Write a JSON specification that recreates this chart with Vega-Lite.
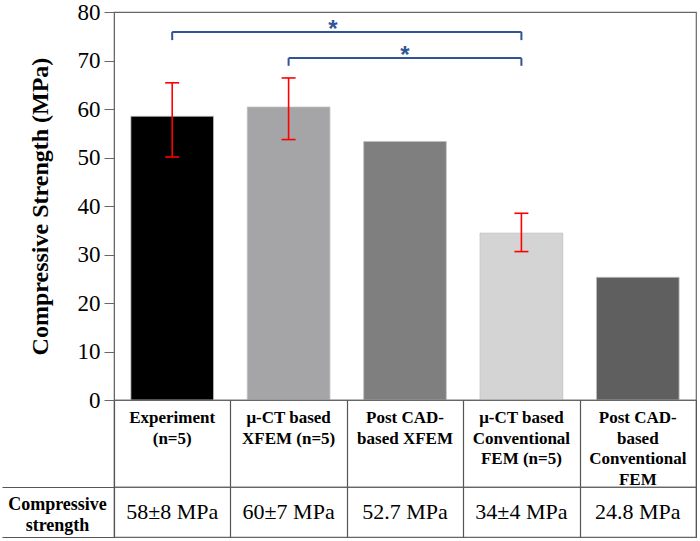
{
  "$schema": "https://vega.github.io/schema/vega-lite/v6.json",
  "padding": 0,
  "autosize": {"type": "pad"},
  "background": "white",
  "config": {
    "view": {"stroke": "#666666", "strokeWidth": 1.2},
    "font": "Liberation Serif"
  },
  "datasets": {
    "bars": [
      {"method": "Experiment", "strength": 58.5, "lo": 50.1, "hi": 65.4, "label": "Experiment\n(n=5)", "value": "58±8 MPa"},
      {"method": "μ-CT based XFEM", "strength": 60.4, "lo": 53.7, "hi": 66.4, "label": "μ-CT based\nXFEM (n=5)", "value": "60±7 MPa"},
      {"method": "Post CAD-based XFEM", "strength": 53.3, "lo": null, "hi": null, "label": "Post CAD-\nbased XFEM", "value": "52.7 MPa"},
      {"method": "μ-CT based Conventional FEM", "strength": 34.4, "lo": 30.6, "hi": 38.5, "label": "μ-CT based\nConventional\nFEM (n=5)", "value": "34±4 MPa"},
      {"method": "Post CAD-based Conventional FEM", "strength": 25.3, "lo": null, "hi": null, "label": "Post CAD-\nbased\nConventional\nFEM", "value": "24.8 MPa"}
    ],
    "brackets": [
      {"id": "a", "from": "Experiment", "to": "μ-CT based Conventional FEM", "y": 75.9, "y_end": 74.2, "star_at": "μ-CT based XFEM", "star_y": 74.9},
      {"id": "b", "from": "μ-CT based XFEM", "to": "μ-CT based Conventional FEM", "y": 70.5, "y_end": 68.9, "star_at": "Post CAD-based XFEM", "star_y": 69.5}
    ]
  },
  "spacing": 0,
  "bounds": "flush",
  "resolve": {"scale": {"x": "independent", "y": "independent", "color": "independent"}},
  "vconcat": [
    {
      "width": 582,
      "height": 388,
      "layer": [
        {
          "data": {"name": "bars"},
          "mark": {"type": "bar", "stroke": "#bfbfbf", "strokeWidth": 0.8},
          "encoding": {
            "x": {
              "field": "method", "type": "nominal",
              "scale": {
                "domain": ["Experiment", "μ-CT based XFEM", "Post CAD-based XFEM", "μ-CT based Conventional FEM", "Post CAD-based Conventional FEM"],
                "paddingInner": 0.29, "paddingOuter": 0.145
              },
              "axis": null
            },
            "y": {
              "field": "strength", "type": "quantitative",
              "scale": {"domain": [0, 80]},
              "axis": {
                "values": [0, 10, 20, 30, 40, 50, 60, 70, 80],
                "grid": false,
                "title": "Compressive Strength (MPa)",
                "titleFont": "Liberation Serif", "titleFontSize": 24, "titleFontWeight": "bold",
                "titleColor": "black", "titlePadding": 25,
                "labelFont": "Liberation Serif", "labelFontSize": 23, "labelColor": "black",
                "labelPadding": 4, "labelFlush": false, "labelOverlap": false,
                "tickSize": 10, "tickColor": "#666666", "domainColor": "#666666"
              }
            },
            "color": {
              "field": "method", "type": "nominal",
              "scale": {
                "domain": ["Experiment", "μ-CT based XFEM", "Post CAD-based XFEM", "μ-CT based Conventional FEM", "Post CAD-based Conventional FEM"],
                "range": ["#000000", "#a5a5a7", "#7f7f7f", "#d4d4d4", "#5f5f5f"]
              },
              "legend": null
            }
          }
        },
        {
          "data": {"name": "bars"},
          "transform": [{"filter": "datum.lo != null"}],
          "mark": {"type": "rule", "color": "#ff0000", "strokeWidth": 1.6},
          "encoding": {
            "x": {"field": "method", "type": "nominal"},
            "y": {"field": "lo", "type": "quantitative"},
            "y2": {"field": "hi"}
          }
        },
        {
          "data": {"name": "bars"},
          "transform": [{"filter": "datum.lo != null"}],
          "mark": {"type": "tick", "color": "#ff0000", "thickness": 1.6, "size": 14, "opacity": 1},
          "encoding": {
            "x": {"field": "method", "type": "nominal"},
            "y": {"field": "lo", "type": "quantitative"}
          }
        },
        {
          "data": {"name": "bars"},
          "transform": [{"filter": "datum.lo != null"}],
          "mark": {"type": "tick", "color": "#ff0000", "thickness": 1.6, "size": 14, "opacity": 1},
          "encoding": {
            "x": {"field": "method", "type": "nominal"},
            "y": {"field": "hi", "type": "quantitative"}
          }
        },
        {
          "data": {"name": "brackets"},
          "mark": {"type": "rule", "color": "#2f5597", "strokeWidth": 2},
          "encoding": {
            "x": {"field": "from", "type": "nominal", "bandPosition": 0.5},
            "x2": {"field": "to"},
            "y": {"field": "y", "type": "quantitative"}
          }
        },
        {
          "data": {"name": "brackets"},
          "mark": {"type": "rule", "color": "#2f5597", "strokeWidth": 2},
          "encoding": {
            "x": {"field": "from", "type": "nominal", "bandPosition": 0.5},
            "y": {"field": "y", "type": "quantitative"},
            "y2": {"field": "y_end"}
          }
        },
        {
          "data": {"name": "brackets"},
          "mark": {"type": "rule", "color": "#2f5597", "strokeWidth": 2},
          "encoding": {
            "x": {"field": "to", "type": "nominal", "bandPosition": 0.5},
            "y": {"field": "y", "type": "quantitative"},
            "y2": {"field": "y_end"}
          }
        },
        {
          "data": {"name": "brackets"},
          "transform": [{"filter": "datum.id == 'a'"}],
          "mark": {"type": "text", "text": "*", "font": "Liberation Sans", "fontWeight": "bold", "fontSize": 24, "color": "#2f5597", "baseline": "alphabetic", "dx": 3},
          "encoding": {
            "x": {"field": "star_at", "type": "nominal", "bandPosition": 1},
            "y": {"field": "star_y", "type": "quantitative"}
          }
        },
        {
          "data": {"name": "brackets"},
          "transform": [{"filter": "datum.id == 'b'"}],
          "mark": {"type": "text", "text": "*", "font": "Liberation Sans", "fontWeight": "bold", "fontSize": 24, "color": "#2f5597", "baseline": "alphabetic"},
          "encoding": {
            "x": {"field": "star_at", "type": "nominal", "bandPosition": 0.5},
            "y": {"field": "star_y", "type": "quantitative"}
          }
        }
      ]
    },
    {
      "width": 582,
      "height": 87,
      "data": {"name": "bars"},
      "mark": {"type": "text", "baseline": "top", "lineBreak": "\n", "font": "Liberation Serif", "fontWeight": "bold", "fontSize": 17, "lineHeight": 20.5, "dy": 10, "color": "black"},
      "encoding": {
        "x": {
          "field": "method", "type": "nominal",
          "scale": {
            "domain": ["Experiment", "μ-CT based XFEM", "Post CAD-based XFEM", "μ-CT based Conventional FEM", "Post CAD-based Conventional FEM"],
            "paddingInner": 0, "paddingOuter": 0
          },
          "axis": {"grid": true, "tickBand": "extent", "gridColor": "#555555", "gridWidth": 1.2, "labels": false, "ticks": false, "domain": false, "title": null}
        },
        "y": {
          "datum": "row", "type": "nominal",
          "scale": {"type": "band", "domain": ["row"], "paddingInner": 0, "paddingOuter": 0},
          "bandPosition": 0,
          "axis": null
        },
        "text": {"field": "label"}
      }
    },
    {
      "width": 582,
      "height": 50,
      "data": {"name": "bars"},
      "mark": {"type": "text", "baseline": "middle", "font": "Liberation Serif", "fontSize": 22, "color": "black"},
      "encoding": {
        "x": {
          "field": "method", "type": "nominal",
          "scale": {
            "domain": ["Experiment", "μ-CT based XFEM", "Post CAD-based XFEM", "μ-CT based Conventional FEM", "Post CAD-based Conventional FEM"],
            "paddingInner": 0, "paddingOuter": 0
          },
          "axis": {"grid": true, "tickBand": "extent", "gridColor": "#555555", "gridWidth": 1.2, "labels": false, "ticks": false, "domain": false, "title": null}
        },
        "y": {
          "datum": "Compressive strength", "type": "nominal",
          "scale": {"type": "band", "domain": ["Compressive strength"], "paddingInner": 0, "paddingOuter": 0},
          "axis": {
            "title": null, "domain": false,
            "tickBand": "extent", "tickSize": 112, "tickColor": "#555555", "tickWidth": 1.2,
            "labelExpr": "isValid(datum.value) ? split(datum.value, ' ') : ''",
            "labelAlign": "center", "labelBaseline": "middle", "labelPadding": -55,
            "labelOffset": -8,
            "labelFont": "Liberation Serif", "labelFontWeight": "bold", "labelFontSize": 18,
            "labelLineHeight": 21, "labelColor": "black"
          }
        },
        "text": {"field": "value"}
      }
    }
  ]
}
